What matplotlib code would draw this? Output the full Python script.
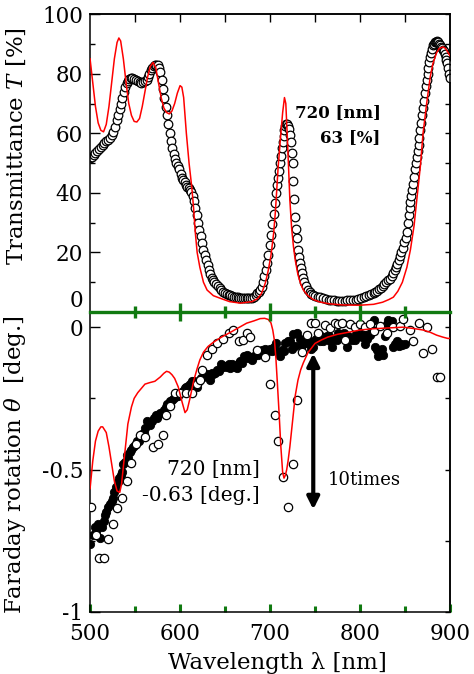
import matplotlib
matplotlib.use("Agg")
import matplotlib.pyplot as plt

plt.rcParams['font.family'] = ['DejaVu Serif']
plt.rcParams['mathtext.fontset'] = 'dejavuserif'

# ---- transmittance (top panel) ----
t_meas_x = [500, 502, 504, 506, 508, 510, 512, 514, 516, 518, 520, 522, 524, 526, 528, 530, 531.5, 533,
            534.5, 536, 537.5, 539, 540.5, 542, 543.5, 545, 547, 549, 551, 553, 555, 557, 559, 561, 563, 564.5,
            566, 567.5, 569, 570.5, 572, 573.5, 575, 576.5, 578, 579.5, 581, 582.5, 584, 585.5, 587, 588.5, 590, 591.5,
            593, 594.5, 596, 597.5, 599, 600.5, 602, 603.5, 605, 606.5, 608, 609.5, 611, 612.5, 614, 615.5, 617, 618.5,
            620, 621.5, 623, 624.5, 626, 627.5, 629, 630.5, 632, 633.5, 635, 636.5, 638, 640, 642, 644, 646, 648,
            650, 652, 654, 656, 658, 660, 662, 664, 666, 668, 670, 672, 674, 676, 678, 680, 682, 684,
            686, 687.5, 689, 690.5, 692, 693.5, 695, 696.5, 698, 699.5, 701, 702.5, 704, 705.5, 707, 708, 709, 710,
            711, 712, 713, 714, 715, 716, 717, 718, 719, 720, 721, 722, 723, 724, 725, 726, 727, 728,
            729, 730, 731, 732, 733, 734, 735, 736.5, 738, 740, 742, 744, 746, 748, 750, 753, 756, 759,
            762, 765, 768, 771, 774, 777, 780, 783, 786, 789, 792, 795, 798, 801, 804, 807, 810, 812.5,
            815, 817, 819, 821, 823, 825, 827, 829, 831, 833, 835, 837, 838.5, 840, 841.5, 843, 844.5, 846,
            847.5, 849, 850.5, 852, 853, 854, 855, 856, 857, 858, 859, 860, 861, 862, 863, 864, 865, 866,
            867, 868, 869, 870, 871, 872, 873, 874, 875, 876, 877, 878, 879, 880, 881, 882, 883, 884,
            885, 886, 887, 888, 889, 890, 891, 892, 893, 894, 895, 896, 897, 898, 899, 900]
t_meas_y = [51.7, 52.2, 52.8, 53.5, 54.2, 54.8, 55.5, 56.2, 56.8, 57.3, 57.8, 58.5, 59.5, 60.5, 62, 64.5, 66, 68,
            70, 72, 74, 75.5, 76.8, 77.5, 78.2, 78.5, 78.5, 78.2, 78, 77.6, 77.2, 77, 77.1, 77.5, 78, 79,
            80, 81.2, 82, 82.6, 83, 83, 82.8, 82, 80.5, 78, 75, 72, 69, 66, 63, 60, 57.5, 55,
            53, 51.3, 50, 49, 48, 46.5, 45, 44.2, 43.5, 42.7, 42, 41.5, 41, 40.2, 39, 37.2, 35, 32.5,
            30, 27.7, 25.5, 23.2, 21, 19.2, 17.5, 15.7, 14, 12.7, 11.5, 10.7, 10, 9.3, 8.7, 8.2, 7.5, 6.9,
            6.4, 6.1, 5.8, 5.6, 5.3, 5.1, 5, 4.9, 4.8, 4.7, 4.6, 4.6, 4.6, 4.6, 4.7, 4.8, 5.2, 5.7,
            6.3, 6.8, 7.4, 8.5, 10, 12, 14, 16.5, 19, 22.5, 26, 29.5, 33, 36.5, 40, 42.5, 45, 47.5,
            50, 52.5, 55, 57, 59, 61, 62.5, 63, 63, 62.5, 61.5, 59.5, 57, 53.5, 50, 44, 38, 32,
            28, 25, 21, 18.5, 16.5, 14.7, 13, 11.5, 10, 8.6, 7.4, 6.7, 6.2, 5.8, 5.5, 5.2, 4.9, 4.6,
            4.3, 4.1, 4, 3.9, 3.8, 3.8, 3.8, 3.8, 3.9, 4, 4.1, 4.2, 4.4, 4.7, 5, 5.4, 5.7, 6.1,
            6.4, 6.8, 7.2, 7.7, 8.2, 8.8, 9.4, 10, 10.6, 11.2, 12, 13, 14, 15, 16.2, 17.5, 18.8, 20,
            21.6, 23.5, 25, 27, 30, 32.5, 35, 37, 39, 41, 43, 45.5, 48, 50, 52, 54, 56, 58.5,
            61, 63.5, 66, 68.5, 71, 73.5, 76, 78, 80, 82, 84, 85.5, 87, 88.3, 89.5, 90, 90.5, 90.8,
            91, 90.8, 90.5, 90, 89.5, 89, 88.5, 88, 87.5, 86.5, 85.5, 84.5, 83.5, 82, 80, 78.5]

t_calc_x = [500, 503, 506, 509, 512, 515, 518, 521, 524, 527, 530, 532, 534, 537, 540, 543, 546, 549,
            552, 555, 558, 561, 564, 567, 570, 573, 576, 579, 582, 585, 588, 591, 594, 597, 600, 602,
            604, 607, 610, 613, 615, 617, 619, 622, 626, 630, 637, 644, 655, 667, 680, 686, 690, 692,
            695, 698, 701, 704, 706, 709, 712, 714, 716, 717.5, 719, 720.5, 722, 724, 726, 728, 731, 734,
            737, 742, 748, 755, 765, 780, 800, 815, 825, 832, 837, 842, 847, 852, 856, 860, 863, 867,
            870, 874, 878, 881, 885, 888, 892, 895, 898, 900]
t_calc_y = [85, 77, 69, 63.5, 61, 60.5, 63, 69, 77, 85, 90.5, 92, 91, 85, 77, 70, 66, 64,
            63.8, 65, 69, 74, 79, 82.5, 83.8, 82, 77, 72, 68.5, 67, 66.5, 67.5, 70, 73.5, 76, 75.5,
            72, 60, 50, 42, 35, 26.5, 20, 15, 10, 7.4, 5.5, 4.7, 3.5, 3, 3.5, 4.5, 6, 7.4,
            10, 14, 19, 26.5, 34, 48.7, 60, 67, 72, 70, 60, 49, 37.6, 28, 22, 17.4, 12.5, 9.5,
            7.4, 5.5, 4.2, 3.4, 2.8, 2.4, 2.3, 2.6, 3.3, 4.2, 5, 7, 10, 15, 21, 29, 37.6, 49,
            60, 70, 79, 83.5, 87, 88.5, 89, 88.5, 87, 86]

# ---- Faraday rotation (bottom panel) ----
f_fill_x = [500, 503, 505, 507, 509, 511, 513, 515, 517, 518, 520, 522, 524, 526, 527, 529, 531, 532,
            534, 535, 537, 539, 541, 542, 544, 546, 548, 550, 552, 554, 556, 558, 560, 561, 563, 565,
            567, 569, 571, 573, 574, 576, 578, 580, 582, 584, 586, 588, 589, 591, 593, 595, 597, 598,
            600, 603, 605, 607, 609, 611, 613, 616, 619, 621, 623, 626, 628, 630, 633, 635, 637, 639,
            641, 643, 646, 648, 650, 652, 654, 656, 658, 661, 663, 665, 667, 669, 671, 674, 676, 678,
            680, 682, 685, 687, 689, 691, 694, 696, 698, 700, 702, 704, 707, 709, 711, 713, 715, 717,
            720, 722, 724, 726, 728, 730, 733, 735, 737, 740, 742, 744, 746, 748, 751, 754, 756, 759,
            761, 763, 765, 767, 769, 772, 774, 776, 778, 780, 782, 785, 787, 789, 791, 794, 796, 798,
            800, 802, 804, 806, 808, 811, 813, 815, 817, 819, 820, 822, 824, 826, 828, 830, 831, 833,
            835, 837, 839, 841, 843, 845, 847, 850]
f_fill_y = [-0.76, -0.73, -0.70, -0.72, -0.69, -0.74, -0.70, -0.68, -0.66, -0.65, -0.63, -0.62, -0.61, -0.60, -0.58, -0.56, -0.545, -0.53,
            -0.52, -0.51, -0.48, -0.475, -0.45, -0.46, -0.44, -0.43, -0.42, -0.415, -0.40, -0.40, -0.39, -0.375, -0.37, -0.355, -0.33, -0.34,
            -0.345, -0.33, -0.32, -0.31, -0.32, -0.31, -0.30, -0.30, -0.29, -0.28, -0.27, -0.27, -0.26, -0.255, -0.25, -0.24, -0.235, -0.24,
            -0.23, -0.225, -0.215, -0.21, -0.205, -0.20, -0.19, -0.19, -0.21, -0.19, -0.18, -0.175, -0.17, -0.165, -0.185, -0.16, -0.165, -0.16,
            -0.15, -0.155, -0.13, -0.14, -0.135, -0.14, -0.13, -0.145, -0.13, -0.14, -0.145, -0.125, -0.12, -0.127, -0.10, -0.098, -0.11, -0.105,
            -0.115, -0.10, -0.09, -0.098, -0.085, -0.08, -0.075, -0.09, -0.08, -0.075, -0.085, -0.07, -0.055, -0.087, -0.10, -0.08, -0.085, -0.057,
            -0.05, -0.05, -0.075, -0.025, -0.065, -0.02, -0.04, -0.063, -0.06, -0.045, -0.057, -0.05, -0.075, -0.07, -0.04, -0.025, -0.05, -0.05,
            -0.035, -0.03, -0.03, -0.05, -0.07, -0.04, -0.045, -0.02, -0.03, 0.014, -0.02, -0.07, -0.03, -0.04, -0.045, -0.045, -0.025, -0.03,
            0.0, -0.035, -0.02, -0.06, -0.04, -0.028, -0.01, 0.025, -0.07, -0.08, -0.10, -0.09, -0.075, -0.098, -0.03, 0.01, 0.025, 0.0,
            0.02, -0.07, -0.06, -0.05, -0.065, -0.06, -0.063, -0.06]

f_open_x = [501, 507, 510, 515, 520, 526, 530, 536, 541, 546, 551, 556, 561, 570, 576, 581, 584, 589,
            594, 600, 607, 613, 619, 622, 624, 630, 635, 641, 648, 654, 659, 665, 670, 674, 678, 685,
            694, 700, 705, 709, 714, 720, 725, 730, 735, 741, 746, 750, 753, 761, 767, 772, 776, 780,
            783, 789, 794, 800, 805, 811, 816, 822, 830, 837, 844, 848, 855, 859, 865, 870, 874, 880,
            885, 889]
f_open_y = [-0.63, -0.73, -0.81, -0.81, -0.745, -0.69, -0.636, -0.60, -0.54, -0.476, -0.41, -0.38, -0.385, -0.42, -0.41, -0.38, -0.31, -0.277,
            -0.23, -0.23, -0.23, -0.23, -0.20, -0.186, -0.15, -0.098, -0.075, -0.056, -0.04, -0.02, -0.01, -0.05, -0.045, -0.02, -0.035, -0.08,
            -0.105, -0.20, -0.31, -0.40, -0.525, -0.63, -0.48, -0.256, -0.087, -0.028, 0.013, 0.013, -0.02, 0.007, -0.004, 0.013, 0.01, 0.013,
            -0.045, 0.01, 0.0, 0.01, 0.0, 0.01, -0.015, 0.005, -0.02, 0.0, 0.005, 0.03, -0.01, -0.05, 0.013, -0.09, 0.0, -0.075,
            -0.175, -0.175]

f_calc_x = [500, 503, 506, 509, 512, 514, 518, 521, 524, 527, 530, 533, 535, 537, 540, 542, 546, 549,
            553, 557, 561, 566, 572, 578, 582, 585, 588, 591, 594, 598, 602, 605.5, 608, 611, 615, 619,
            622, 626, 631, 637, 646, 656, 665, 674, 682, 689, 694, 698, 701, 703, 705, 706.5, 708, 710,
            712, 714, 715.5, 717, 718.5, 720, 722, 724, 726, 728, 731, 734, 737, 742, 750, 757, 764, 775,
            787, 800, 813, 830, 848, 860, 870, 878, 885, 892, 898, 900]
f_calc_y = [-0.567, -0.47, -0.40, -0.365, -0.35, -0.35, -0.37, -0.42, -0.48, -0.54, -0.575, -0.58, -0.55, -0.49, -0.40, -0.34, -0.28, -0.25,
            -0.23, -0.215, -0.20, -0.195, -0.19, -0.175, -0.162, -0.155, -0.158, -0.167, -0.18, -0.21, -0.26, -0.30, -0.29, -0.25, -0.19, -0.145,
            -0.115, -0.088, -0.068, -0.053, -0.035, -0.018, -0.002, 0.014, 0.022, 0.03, 0.031, 0.027, 0.015, -0.01, -0.05, -0.11, -0.19, -0.30,
            -0.42, -0.51, -0.53, -0.52, -0.50, -0.47, -0.42, -0.36, -0.30, -0.24, -0.186, -0.15, -0.125, -0.09, -0.057, -0.045, -0.035, -0.025,
            -0.018, -0.01, -0.006, -0.003, 0.0, -0.005, -0.01, -0.018, -0.028, -0.035, -0.04, -0.038]

GREEN = '#117a11'

fig = plt.figure(figsize=(4.74, 6.74), dpi=100)
ax2 = fig.add_axes([0.190, 0.092, 0.7595, 0.445])
ax1 = fig.add_axes([0.190, 0.537, 0.7595, 0.442])
ax1.set_zorder(3)
ax1.patch.set_visible(False)

# top panel
ax1.plot(t_meas_x, t_meas_y, 'o', ms=6.2, mfc='white', mec='black', mew=0.9, zorder=2)
ax1.plot(t_calc_x, t_calc_y, '-', color='red', lw=1.1, zorder=3)
ax1.set_xlim(500, 900)
ax1.set_ylim(0, 100)
ax1.set_yticks(range(0, 101, 20))
ax1.set_yticks(range(0, 101, 10), minor=True)
ax1.tick_params(axis='y', which='major', direction='in', length=7, width=1, left=True, right=False,
                labelsize=15.5, pad=5)
ax1.tick_params(axis='y', which='minor', direction='in', length=3.5, width=1, left=True, right=False)
ax1.yaxis.get_major_ticks()[0].label1.set_verticalalignment('bottom')
r1 = ax1.secondary_yaxis('right')
r1.set_yticks(range(0, 101, 10))
r1.tick_params(direction='in', length=3.5, width=1, labelright=False)

ax1.set_xticks([600, 700, 800])
ax1.set_xticks([550, 650, 750, 850], minor=True)
ax1.tick_params(axis='x', which='major', direction='inout', length=13, width=2.4, color=GREEN,
                labelbottom=False, top=False)
ax1.tick_params(axis='x', which='minor', direction='inout', length=8, width=2.4, color=GREEN, top=False)
t1 = ax1.secondary_xaxis('top')
t1.set_xticks([550, 600, 650, 700, 750, 800, 850])
t1.tick_params(direction='in', length=6, width=1, labeltop=False)
for s in ['left', 'right', 'top']:
    ax1.spines[s].set_linewidth(1.1)
r1.spines['right'].set_linewidth(1.1)
t1.spines['top'].set_linewidth(1.1)
ax1.spines['bottom'].set_color(GREEN)
ax1.spines['bottom'].set_linewidth(2.4)
ax1.spines['bottom'].set_zorder(5)
ax1.set_ylabel('Transmittance $T$ [%]', fontsize=16.5)
ax1.yaxis.set_label_coords(-0.172, 0.557)
ax1.text(823, 67, '720 [nm]', ha='right', va='center', fontsize=12, fontweight='bold')
ax1.text(823, 58.7, '63 [%]', ha='right', va='center', fontsize=12, fontweight='bold')

# bottom panel
ax2.plot(f_fill_x, f_fill_y, 'o', ms=6, mfc='black', mec='black', mew=0.6, zorder=2)
ax2.plot(f_open_x, f_open_y, 'o', ms=6, mfc='white', mec='black', mew=0.9, zorder=3)
ax2.plot(f_calc_x, f_calc_y, '-', color='red', lw=1.1, zorder=4)
ax2.set_xlim(500, 900)
ax2.set_ylim(-1, 0.053)
ax2.set_yticks([-1, -0.5, 0])
ax2.set_yticklabels(['-1', '-0.5', '0'])
ax2.set_yticks([-0.75, -0.25], minor=True)
ax2.tick_params(axis='y', which='major', direction='in', length=7, width=1, right=False,
                labelsize=15.5, pad=5)
ax2.tick_params(axis='y', which='minor', direction='in', length=3.5, width=1, right=False)
r2 = ax2.secondary_yaxis('right')
r2.set_yticks([-1, -0.75, -0.5, -0.25, 0])
r2.tick_params(direction='in', length=3.5, width=1, labelright=False)
r2.spines['right'].set_linewidth(1.1)

ax2.set_xticks([500, 600, 700, 800, 900])
ax2.set_xticks([550, 650, 750, 850], minor=True)
ax2.tick_params(axis='x', which='major', direction='in', length=6, width=2.2, color=GREEN,
                labelcolor='black', labelsize=15.5, pad=8, top=False)
ax2.tick_params(axis='x', which='minor', direction='in', length=4, width=2.2, color=GREEN, top=False)
for tk in ax2.xaxis.get_major_ticks():
    if tk.get_loc() in (500, 900):
        tk.tick1line.set_visible(False)
ax2.spines['top'].set_visible(False)
for s in ['left', 'right', 'bottom']:
    ax2.spines[s].set_linewidth(1.1)
ax2.set_ylabel(r'Faraday rotation $\theta$  [deg.]', fontsize=16.5)
ax2.yaxis.set_label_coords(-0.172, 0.49)
ax2.set_xlabel('Wavelength λ [nm]', fontsize=16.5, labelpad=0)
ax2.xaxis.set_label_coords(0.52, -0.135)

ax2.text(689, -0.50, '720 [nm]', ha='right', va='center', fontsize=14.5)
ax2.text(689, -0.59, '-0.63 [deg.]', ha='right', va='center', fontsize=14.5)
ax2.annotate('', xy=(748, -0.092), xytext=(748, -0.64),
             arrowprops=dict(arrowstyle='<|-|>', color='black', lw=3, mutation_scale=18,
                             shrinkA=0, shrinkB=0))
ax2.text(764, -0.537, '10times', ha='left', va='center', fontsize=13)

fig.savefig('out.png', dpi=100)
